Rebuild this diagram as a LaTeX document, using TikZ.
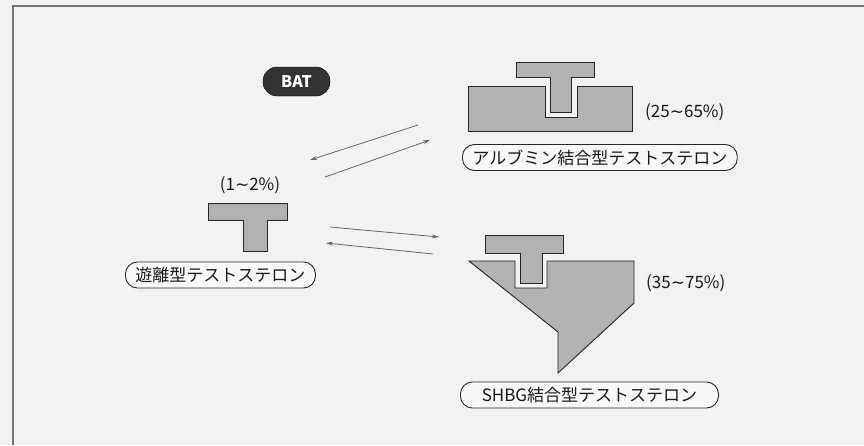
\documentclass[tikz,border=0pt]{standalone}
\usepackage{fontspec}
\setmainfont{Noto Sans CJK JP}
\newfontfamily\dv{DejaVu Sans}
\usetikzlibrary{arrows.meta}
\tikzset{
  shapefill/.style={fill=black!30, draw=black!85, line width=0.9pt, line join=miter},
  pill/.style={draw=black!85, line width=0.9pt, rounded corners=12pt, fill=white, fill opacity=0.5, text opacity=1, inner xsep=10pt, inner ysep=3pt, minimum height=26pt, font=\fontsize{17}{17}\selectfont, text=black!90},
  pct/.style={font=\fontsize{17}{17}\selectfont, text=black!90, inner sep=0pt},
  flow/.style={draw=black!60, line width=0.8pt, -{Stealth[length=7pt,width=4pt]}},
}
\begin{document}
\begin{tikzpicture}[x=1pt,y=-1pt]
\path[fill=black!5] (0,0) rectangle (864,445);
\useasboundingbox (0,0) rectangle (864,445);
\draw[black!55, line width=1.5pt] (13,445) -- (13,6) -- (864,6);

% BAT
\node[fill=black!80, draw=black, rounded corners=14pt, minimum width=67pt, minimum height=29pt, inner sep=0pt, text=white, font=\bfseries\fontsize{16}{16}\selectfont] (bat) at (296.5,81.5) {BAT};

% Albumin-bound
\draw[shapefill] (468,86) -- (545,86) -- (545,117) -- (577,117) -- (577,86) -- (632,86) -- (632,131) -- (468,131) -- cycle;
\draw[shapefill] (516,62) -- (594,62) -- (594,77) -- (571,77) -- (571,112) -- (550,112) -- (550,77) -- (516,77) -- cycle;
\node[pct, anchor=west] (p2) at (645,112) {(25{\dv ∼}65\%)};
\node[pill, anchor=west] (lalb) at (462,157.5) {アルブミン結合型テストステロン};

% Free
\node[pct] (p1) at (250,185) {(1{\dv ∼}2\%)};
\draw[shapefill] (208,203) -- (287,203) -- (287,220) -- (267,220) -- (267,251) -- (243,251) -- (243,220) -- (208,220) -- cycle;
\node[pill, anchor=west] (lfree) at (125,275) {遊離型テストステロン};

% SHBG-bound
\draw[shapefill] (469,261) -- (515,261) -- (515,288) -- (547,288) -- (547,261) -- (634,261) -- (634,303) -- (558,373) -- (558,332) -- cycle;
\draw[shapefill] (485,235) -- (563,235) -- (563,253) -- (542,253) -- (542,283) -- (520,283) -- (520,253) -- (485,253) -- cycle;
\node[pct, anchor=west] (p3) at (646,283) {(35{\dv ∼}75\%)};
\node[pill, anchor=west, minimum width=258pt] (lshbg) at (460,395) {SHBG結合型テストステロン};

% arrows
\coordinate (a1s) at (418,125);
\coordinate (a1e) at (310,160);
\coordinate (a2s) at (325,177);
\coordinate (a2e) at (430,140);
\coordinate (b1s) at (330,227);
\coordinate (b1e) at (439,237);
\coordinate (b2s) at (433,254);
\coordinate (b2e) at (326,243);
\draw[flow] (a1s) -- (a1e);
\draw[flow] (a2s) -- (a2e);
\draw[flow] (b1s) -- (b1e);
\draw[flow] (b2s) -- (b2e);
\end{tikzpicture}
\end{document}
